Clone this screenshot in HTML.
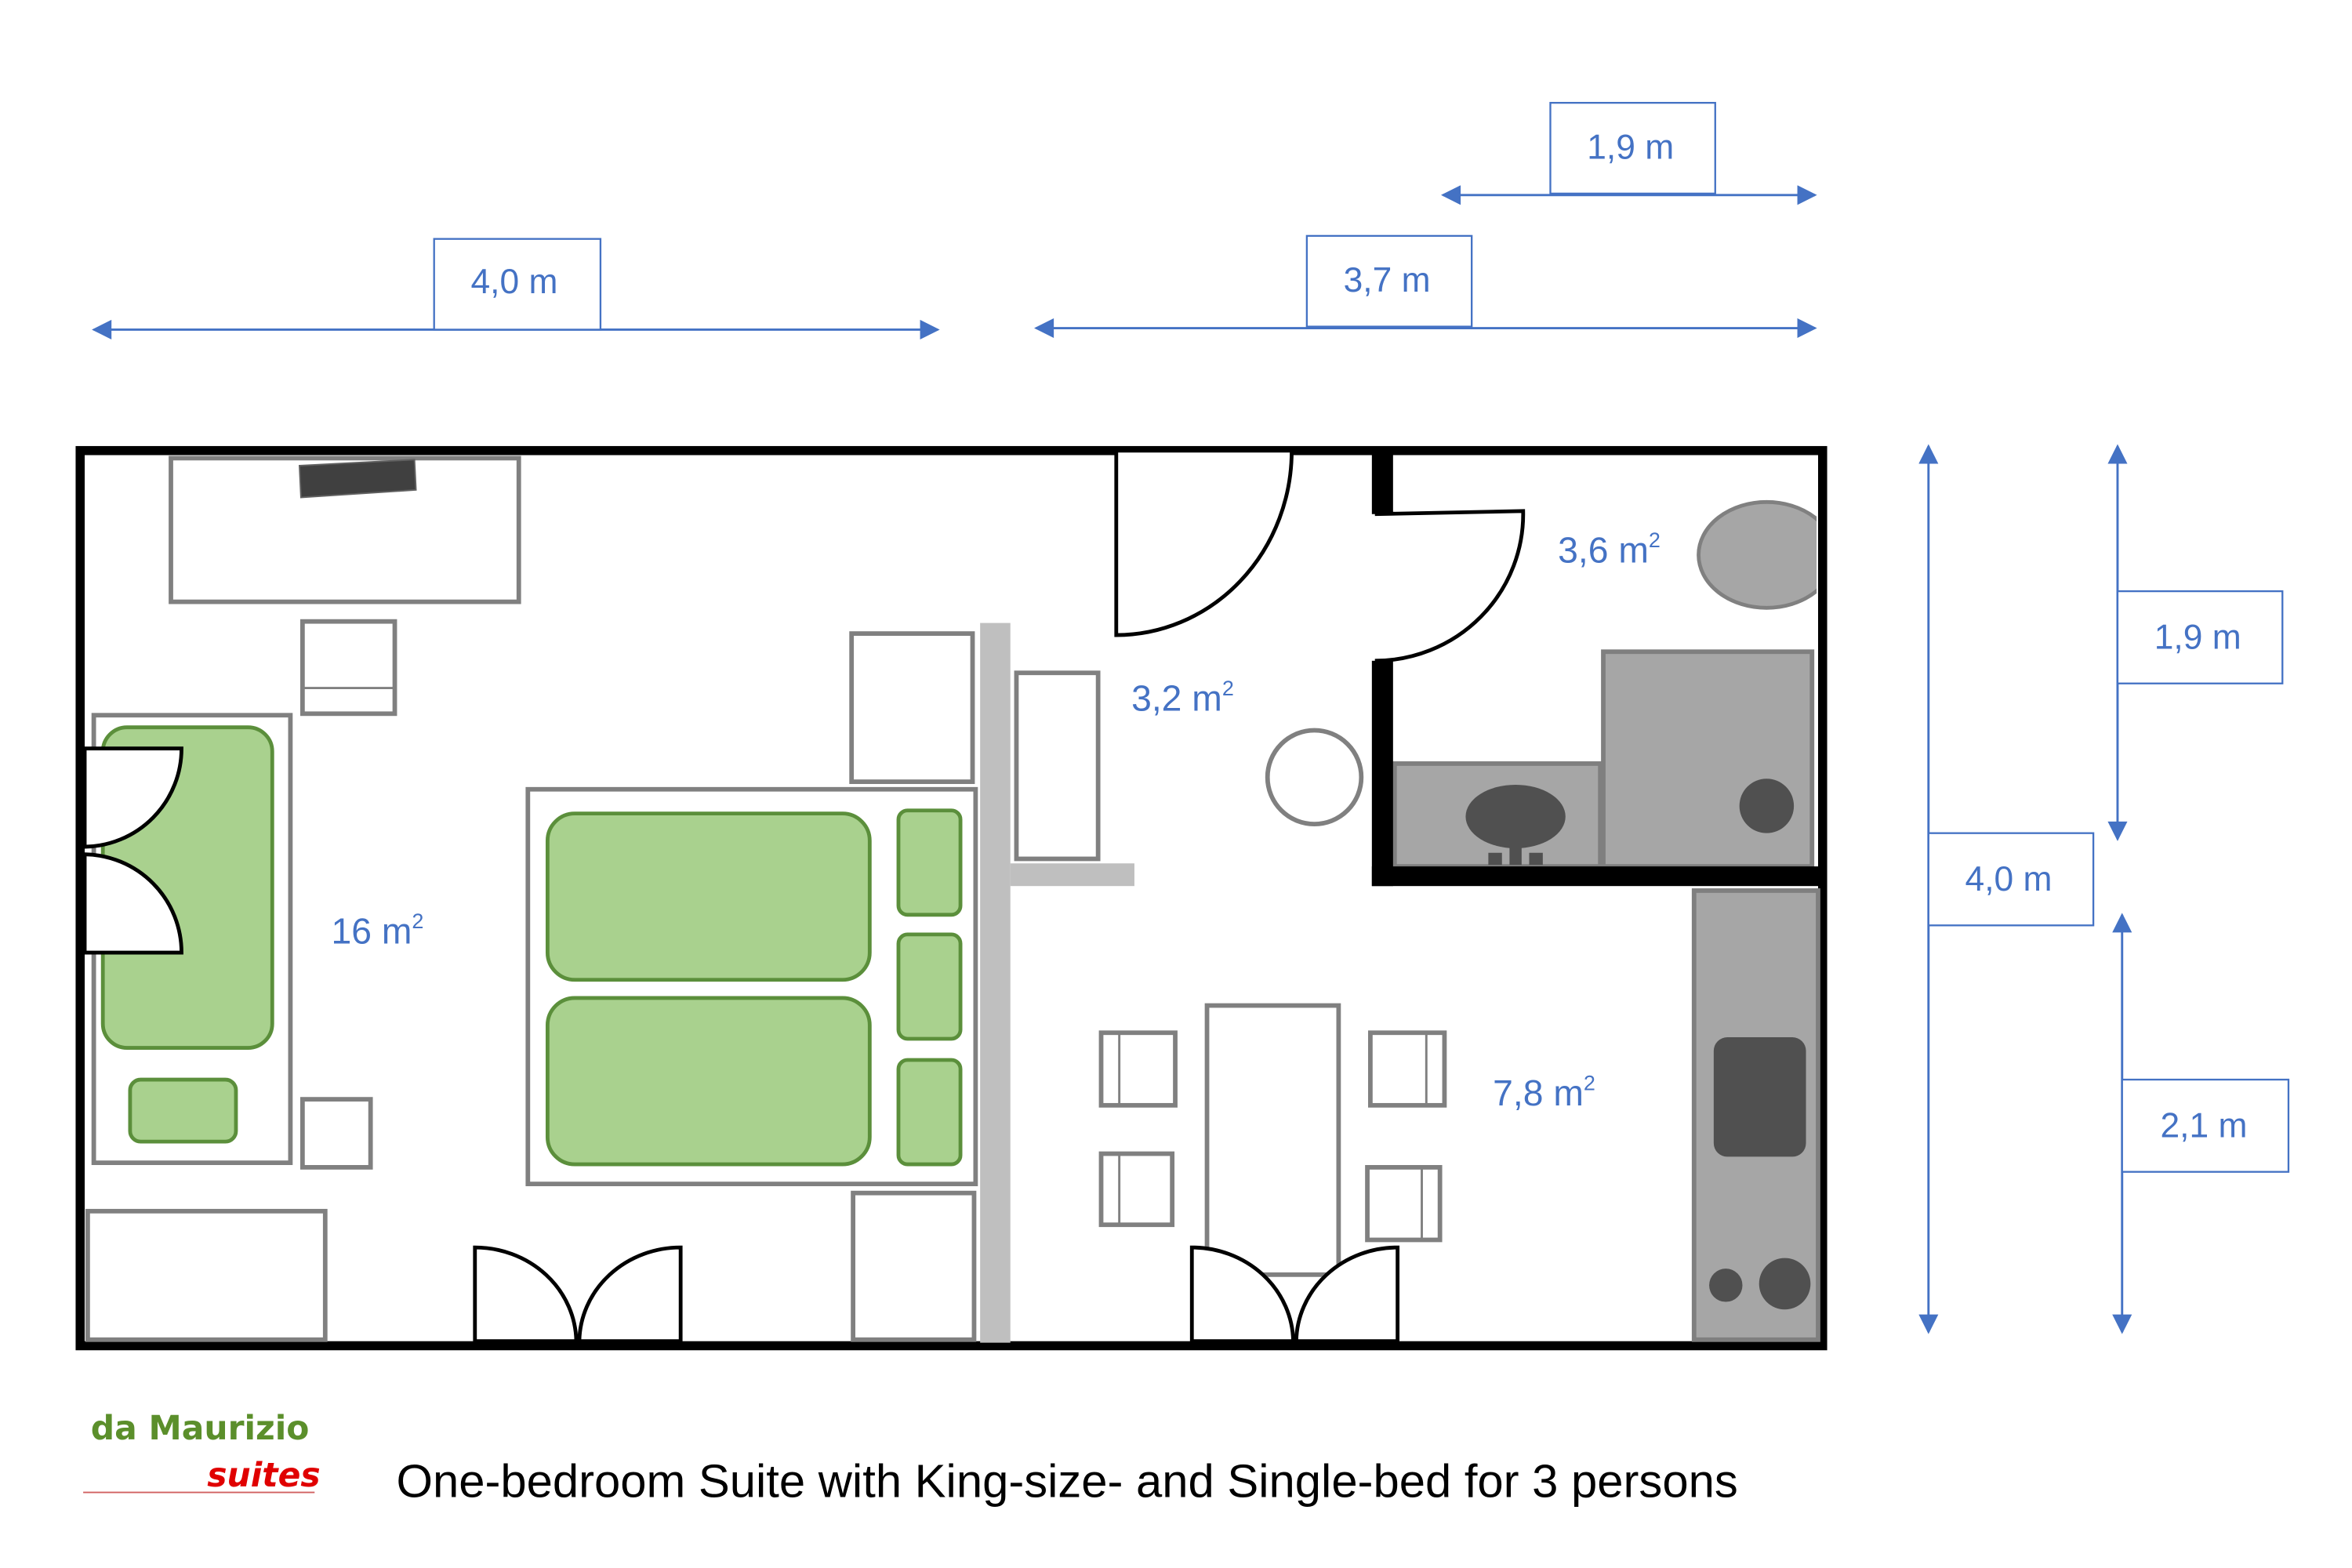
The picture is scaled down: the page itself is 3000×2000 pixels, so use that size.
<!DOCTYPE html>
<html><head><meta charset="utf-8"><style>html,body{margin:0;padding:0;background:#fff}svg{display:block}</style></head>
<body>
<svg width="3000" height="2000" viewBox="0 0 1555 1037" preserveAspectRatio="none" xmlns="http://www.w3.org/2000/svg">
<defs>
<marker id="ah" viewBox="0 0 10 10" refX="9" refY="5" markerWidth="15" markerHeight="13" markerUnits="userSpaceOnUse" orient="auto-start-reverse"><path d="M0,0 L10,5 L0,10 z" fill="#4472C4"/></marker>
<clipPath id="bath"><rect x="921" y="301" width="280" height="272"/></clipPath>
</defs>
<rect width="1555" height="1037" fill="#fff"/>
<g stroke="#4472C4" stroke-width="1.5" fill="none">
<line x1="62" y1="218" x2="620" y2="218" marker-start="url(#ah)" marker-end="url(#ah)"/>
<line x1="685" y1="217" x2="1200" y2="217" marker-start="url(#ah)" marker-end="url(#ah)"/>
<line x1="954" y1="129" x2="1200" y2="129" marker-start="url(#ah)" marker-end="url(#ah)"/>
<line x1="1275" y1="295" x2="1275" y2="881" marker-start="url(#ah)" marker-end="url(#ah)"/>
<line x1="1400" y1="295" x2="1400" y2="555" marker-start="url(#ah)" marker-end="url(#ah)"/>
<line x1="1403" y1="605" x2="1403" y2="881" marker-start="url(#ah)" marker-end="url(#ah)"/>
</g>
<g stroke="#4472C4" stroke-width="1.2" fill="#fff">
<rect x="287" y="158" width="110" height="60"/>
<rect x="864" y="156" width="109" height="60"/>
<rect x="1025" y="68" width="109" height="60"/>
<rect x="1275" y="551" width="109" height="61"/>
<rect x="1400" y="391" width="109" height="61"/>
<rect x="1403" y="714" width="110" height="61"/>
</g>
<g font-family="Liberation Sans, DejaVu Sans, sans-serif" font-size="23" fill="#4472C4" text-anchor="middle">
<text x="340" y="194">4,0 m</text>
<text x="917" y="193">3,7 m</text>
<text x="1078" y="105">1,9 m</text>
<text x="1328" y="589">4,0 m</text>
<text x="1453" y="429">1,9 m</text>
<text x="1457" y="752">2,1 m</text>
</g>
<rect x="53" y="298" width="1152" height="592" fill="#fff" stroke="#000" stroke-width="6"/>
<g stroke="#808080" stroke-width="3" fill="#fff">
<rect x="113" y="303" width="230" height="95"/>
<rect x="200" y="411" width="61" height="61"/>
<line x1="200" y1="455" x2="261" y2="455" stroke-width="1.5"/>
<rect x="62" y="473" width="130" height="296"/>
<rect x="200" y="727" width="45" height="45"/>
<rect x="58" y="801" width="157" height="85"/>
<rect x="349" y="522" width="296" height="261"/>
<rect x="563" y="419" width="80" height="98"/>
<rect x="564" y="789" width="80" height="97"/>
<rect x="672" y="445" width="54" height="123"/>
<rect x="798" y="665" width="87" height="178"/>
<rect x="728" y="683" width="49" height="48"/>
<line x1="740" y1="683" x2="740" y2="731" stroke-width="1.5"/>
<rect x="728" y="763" width="47" height="47"/>
<line x1="740" y1="763" x2="740" y2="810" stroke-width="1.5"/>
<rect x="906" y="683" width="49" height="48"/>
<line x1="943" y1="683" x2="943" y2="731" stroke-width="1.5"/>
<rect x="904" y="772" width="48" height="48"/>
<line x1="940" y1="772" x2="940" y2="820" stroke-width="1.5"/>
<circle cx="869" cy="514" r="31"/>
</g>
<polygon points="198,308 274,304 275,324 199,329" fill="#404040" stroke="#606060" stroke-width="1"/>
<g fill="#A9D18E" stroke="#5B8F3B" stroke-width="2.5">
<rect x="68" y="481" width="112" height="212" rx="16"/>
<rect x="86" y="714" width="70" height="41" rx="7"/>
<rect x="362" y="538" width="213" height="110" rx="18"/>
<rect x="362" y="660" width="213" height="110" rx="18"/>
<rect x="594" y="536" width="41" height="69" rx="6"/>
<rect x="594" y="618" width="41" height="69" rx="6"/>
<rect x="594" y="701" width="41" height="69" rx="6"/>
</g>
<rect x="648" y="412" width="20" height="476" fill="#BFBFBF"/>
<rect x="668" y="571" width="82" height="15" fill="#BFBFBF"/>
<g stroke="#000" stroke-width="2.5" fill="#fff">
<path d="M56,495 L120,495 A65,65 0 0 1 56,560 Z"/>
<path d="M56,630 L120,630 A65,65 0 0 0 56,565 Z"/>
<path d="M314,887 L314,825 A67,63 0 0 1 381,887 Z"/>
<path d="M450,887 L450,825 A67,63 0 0 0 383,887 Z"/>
<path d="M788,887 L788,825 A67,63 0 0 1 855,887 Z"/>
<path d="M924,887 L924,825 A67,63 0 0 0 857,887 Z"/>
<path d="M738,298 L738,420 A116,122 0 0 0 854,298 Z"/>
</g>
<line x1="738" y1="298" x2="854" y2="298" stroke="#000" stroke-width="2.5"/>
<rect x="921" y="301" width="281" height="272" fill="#fff"/>
<ellipse cx="1168" cy="367" rx="45" ry="35" fill="#A6A6A6" stroke="#808080" stroke-width="2.5" clip-path="url(#bath)"/>
<rect x="1060" y="431" width="138" height="142" fill="#A6A6A6" stroke="#7F7F7F" stroke-width="3"/>
<circle cx="1168" cy="533" r="18" fill="#505050"/>
<rect x="922" y="505" width="136" height="68" fill="#A6A6A6" stroke="#7F7F7F" stroke-width="3"/>
<ellipse cx="1002" cy="540" rx="33" ry="21" fill="#505050"/>
<rect x="998" y="556" width="8" height="16" fill="#505050"/>
<rect x="984" y="564" width="9" height="8" fill="#505050"/>
<rect x="1011" y="564" width="9" height="8" fill="#505050"/>
<rect x="907" y="298" width="14" height="42" fill="#000"/>
<rect x="907" y="437" width="14" height="149" fill="#000"/>
<rect x="907" y="573" width="298" height="13" fill="#000"/>
<path d="M909,340 L1007,338 A98,97 0 0 1 909,437" stroke="#000" stroke-width="2.5" fill="#fff"/>
<rect x="1120" y="589" width="82" height="297" fill="#A6A6A6" stroke="#7F7F7F" stroke-width="3"/>
<rect x="1133" y="686" width="61" height="79" rx="9" fill="#505050"/>
<circle cx="1141" cy="850" r="11" fill="#505050"/>
<circle cx="1180" cy="849" r="17" fill="#505050"/>
<g font-family="Liberation Sans, DejaVu Sans, sans-serif" font-size="24" fill="#4472C4">
<text x="219" y="624">16 m<tspan font-size="14" dy="-10">2</tspan></text>
<text x="748" y="470">3,2 m<tspan font-size="14" dy="-10">2</tspan></text>
<text x="1030" y="372">3,6 m<tspan font-size="14" dy="-10">2</tspan></text>
<text x="987" y="731">7,8 m<tspan font-size="14" dy="-10">2</tspan></text>
</g>
<text x="60" y="952" font-family="DejaVu Sans, Liberation Sans, sans-serif" font-size="22" fill="#5B8F2B" font-weight="bold">da Maurizio</text>
<text x="137" y="983" font-family="DejaVu Sans, Liberation Sans, sans-serif" font-size="22" fill="#E00000" font-style="italic" font-weight="bold">suites</text>
<line x1="55" y1="987" x2="208" y2="987" stroke="#D06060" stroke-width="1"/>
<text x="262" y="990" font-family="Liberation Sans, Arial, sans-serif" font-size="31" fill="#000" textLength="887" lengthAdjust="spacingAndGlyphs">One-bedroom Suite with King-size- and Single-bed for 3 persons</text>
</svg>
</body></html>
